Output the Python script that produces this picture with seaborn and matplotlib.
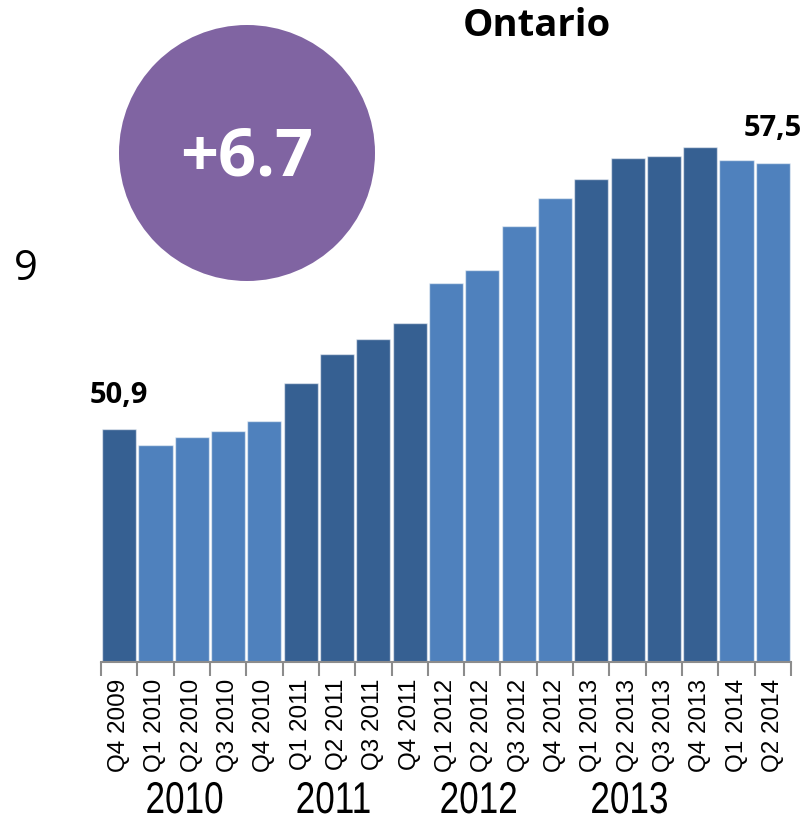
import matplotlib
matplotlib.use("Agg")
import matplotlib.pyplot as plt
from matplotlib.patches import Circle
from matplotlib.patheffects import AbstractPathEffect
from matplotlib.transforms import Affine2D, blended_transform_factory
import seaborn as sns
import pandas as pd

# Quarterly values, Ontario
quarters = ["Q4 2009", "Q1 2010", "Q2 2010", "Q3 2010", "Q4 2010",
            "Q1 2011", "Q2 2011", "Q3 2011", "Q4 2011",
            "Q1 2012", "Q2 2012", "Q3 2012", "Q4 2012",
            "Q1 2013", "Q2 2013", "Q3 2013", "Q4 2013",
            "Q1 2014", "Q2 2014"]
values = [50.9, 50.50, 50.71, 50.85, 51.11,
          52.04, 52.76, 53.13, 53.54,
          54.53, 54.85, 55.94, 56.63,
          57.10, 57.61, 57.68, 57.90,
          57.57, 57.5]
year_labels = ["2010", "2011", "2012", "2013"]
year_positions = [1.8, 5.9, 9.9, 14.05]
title = "Ontario"
change_text = "+6.7"
side_text = "9"

DARK = "#366092"
LIGHT = "#4F81BD"
PURPLE = "#8064A2"

colors = [DARK if q.endswith(("2009", "2011", "2013")) else LIGHT for q in quarters]

df = pd.DataFrame({"quarter": quarters, "value": values})


class Condensed(AbstractPathEffect):
    """Draw text narrower by squeezing glyph paths around their centre."""

    def __init__(self, sx=0.75):
        super().__init__()
        self.sx = sx

    def draw_path(self, renderer, gc, tpath, affine, rgbFace=None):
        ext = tpath.get_extents()
        cx = (ext.x0 + ext.x1) / 2
        squeeze = Affine2D().translate(-cx, 0).scale(self.sx, 1).translate(cx, 0)
        renderer.draw_path(gc, tpath, squeeze + affine, rgbFace)


sns.set_theme(style="white")
plt.rcParams["font.family"] = ["Liberation Sans", "DejaVu Sans"]
plt.rcParams["text.color"] = "black"
plt.rcParams["xtick.color"] = "black"

W, H = 808, 824
fig = plt.figure(figsize=(W / 100, H / 100), dpi=100)
ax = fig.add_axes([101 / W, (H - 662) / H, 690 / W, (662 - 100) / H])

sns.barplot(data=df, x="quarter", y="value", hue="quarter", palette=colors,
            legend=False, width=0.94, edgecolor=(1, 1, 1, 0.55), linewidth=1.0,
            saturation=1, ax=ax)

ax.set_xlim(-0.5, len(quarters) - 0.5)
ax.set_ylim(45.12, 59.06)
ax.set_xlabel("")
ax.set_ylabel("")
ax.set_yticks([])
for s in ["left", "right", "top"]:
    ax.spines[s].set_visible(False)
ax.spines["bottom"].set_color("#8c8c8c")
ax.spines["bottom"].set_linewidth(1.5)

# labels at bar centres, tick marks at category boundaries
ax.set_xticks(range(len(quarters)))
ax.set_xticklabels(quarters, rotation=90, fontsize=17.5, color="black")
ax.tick_params(axis="x", which="major", length=0, pad=12)
ax.set_xticks([i - 0.5 for i in range(len(quarters) + 1)], minor=True)
ax.tick_params(axis="x", which="minor", length=10, width=1.5, color="#8c8c8c", bottom=True)

# value labels for first and last quarter
for i in (0, len(values) - 1):
    ax.annotate(f"{values[i]:.1f}".replace(".", ","), xy=(i, values[i]),
                xytext=(0, 14), textcoords="offset points", ha="center", va="bottom",
                fontsize=21, fontweight="bold", color="black",
                family=["Open Sans", "DejaVu Sans"])

# year labels under the quarter labels
year_tr = blended_transform_factory(ax.transData, fig.transFigure)
for pos, yr in zip(year_positions, year_labels):
    ax.text(pos, (H - 813) / H, yr, transform=year_tr, ha="center", va="baseline",
            fontsize=32, color="black", path_effects=[Condensed(0.79)])

# title
fig.text(537 / W, 1 - 26 / H, title, ha="center", va="center", fontsize=27.5,
         fontweight="bold", color="black", family=["Open Sans", "DejaVu Sans"])

# change bubble
circ = Circle((247 / 100, (H - 153) / 100), 1.28, transform=fig.dpi_scale_trans,
              facecolor=PURPLE, edgecolor="none")
fig.add_artist(circ)
fig.text(247 / W, 1 - 158 / H, change_text, ha="center", va="center", fontsize=48,
         fontweight="bold", color="white", family=["Open Sans", "DejaVu Sans"])

fig.text(26 / W, 1 - 269 / H, side_text, ha="center", va="center", fontsize=30,
         color="black", family=["Open Sans", "DejaVu Sans"])

fig.savefig("out.png", dpi=100, facecolor="white")
